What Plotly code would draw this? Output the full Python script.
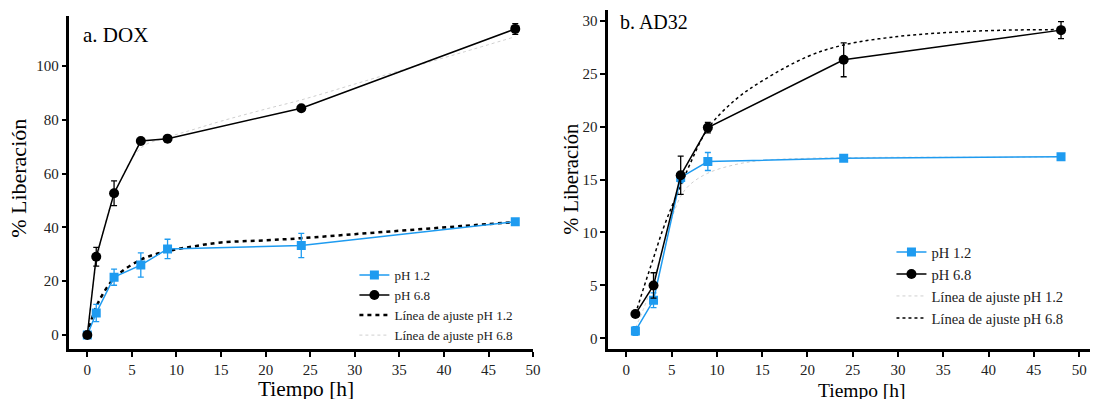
import plotly.graph_objects as go

# ---------------- data ----------------
# a. DOX
t_dox = [0, 1, 3, 6, 9, 24, 48]
dox_ph12 = [0, 8.2, 21.5, 26.0, 32.0, 33.3, 42.1]
dox_ph12_err = [0.6, 3.2, 3.0, 4.5, 3.6, 4.5, 0.6]
dox_ph68 = [0, 29.1, 52.7, 72.1, 73.0, 84.3, 113.8]
dox_ph68_err = [0.6, 3.5, 4.6, 0.8, 0.8, 1.0, 2.0]

t_fit_dox = [0, 1, 3, 6, 9, 12, 15, 20, 24, 30, 36, 42, 48]
dox_fit12 = [0, 10.5, 21.0, 28.0, 31.2, 33.0, 34.4, 35.2, 36.0, 37.5, 39.0, 40.5, 42.0]
dox_fit68 = [0, 26.0, 52.0, 69.5, 73.5, 76.5, 79.5, 84.0, 87.4, 93.3, 99.2, 105.0, 110.9]

# b. AD32
t_ad = [1, 3, 6, 9, 24, 48]
ad_ph12 = [0.7, 3.6, 15.2, 16.7, 17.0, 17.15]
ad_ph12_err = [0.4, 0.7, 0.5, 0.85, 0.2, 0.2]
ad_ph68 = [2.3, 5.0, 15.4, 19.9, 26.3, 29.1]
ad_ph68_err = [0.2, 1.2, 1.8, 0.5, 1.6, 0.8]

t_fit_ad = [1, 2, 3, 4, 5, 6, 7, 9, 12, 15, 20, 24, 30, 36, 42, 48]
ad_fit12 = [1.0, 3.0, 5.5, 8.5, 11.3, 13.4, 14.5, 15.6, 16.4, 16.8, 17.0, 17.05, 17.1, 17.1, 17.1, 17.15]
ad_fit68 = [2.3, 5.0, 7.6, 10.2, 12.4, 14.4, 16.4, 19.8, 22.5, 24.3, 26.6, 27.7, 28.5, 28.9, 29.1, 29.15]

x_ticks = [0, 5, 10, 15, 20, 25, 30, 35, 40, 45, 50]
y_ticks_dox = [0, 20, 40, 60, 80, 100]
y_ticks_ad = [0, 5, 10, 15, 20, 25, 30]

labels = ["pH 1.2", "pH 6.8", "Línea de ajuste pH 1.2", "Línea de ajuste pH 6.8"]

BLUE = "#1E9BF0"
FONT = "Liberation Serif, Times New Roman, serif"
W, H = 1098, 399

fig = go.Figure()

# ---- panel a ----
fig.add_trace(go.Scatter(x=t_fit_dox, y=dox_fit68, mode="lines", name=labels[3],
                         line=dict(color="#cfcfcf", width=1, dash="dot", shape="spline"),
                         xaxis="x", yaxis="y", legend="legend", legendrank=4))
fig.add_trace(go.Scatter(x=t_fit_dox, y=dox_fit12, mode="lines", name=labels[2],
                         line=dict(color="black", width=2.5, dash="4px,4px", shape="spline"),
                         xaxis="x", yaxis="y", legend="legend", legendrank=3))
fig.add_trace(go.Scatter(x=t_dox, y=dox_ph12, mode="lines+markers", name=labels[0],
                         line=dict(color=BLUE, width=1.5),
                         marker=dict(symbol="square", size=9, color=BLUE),
                         error_y=dict(type="data", array=dox_ph12_err, color=BLUE, thickness=1.3, width=3),
                         xaxis="x", yaxis="y", legend="legend", legendrank=1))
fig.add_trace(go.Scatter(x=t_dox, y=dox_ph68, mode="lines+markers", name=labels[1],
                         line=dict(color="black", width=1.5),
                         marker=dict(symbol="circle", size=10, color="black"),
                         error_y=dict(type="data", array=dox_ph68_err, color="black", thickness=1.3, width=3),
                         xaxis="x", yaxis="y", legend="legend", legendrank=2))

# ---- panel b ----
fig.add_trace(go.Scatter(x=t_fit_ad, y=ad_fit12, mode="lines", name=labels[2],
                         line=dict(color="#cfcfcf", width=1, dash="dot", shape="spline"),
                         xaxis="x2", yaxis="y2", legend="legend2", legendrank=3))
fig.add_trace(go.Scatter(x=t_fit_ad, y=ad_fit68, mode="lines", name=labels[3],
                         line=dict(color="black", width=1.5, dash="3px,3px", shape="spline"),
                         xaxis="x2", yaxis="y2", legend="legend2", legendrank=4))
fig.add_trace(go.Scatter(x=t_ad, y=ad_ph12, mode="lines+markers", name=labels[0],
                         line=dict(color=BLUE, width=1.5),
                         marker=dict(symbol="square", size=9, color=BLUE),
                         error_y=dict(type="data", array=ad_ph12_err, color=BLUE, thickness=1.3, width=3),
                         xaxis="x2", yaxis="y2", legend="legend2", legendrank=1))
fig.add_trace(go.Scatter(x=t_ad, y=ad_ph68, mode="lines+markers", name=labels[1],
                         line=dict(color="black", width=1.5),
                         marker=dict(symbol="circle", size=10, color="black"),
                         error_y=dict(type="data", array=ad_ph68_err, color="black", thickness=1.3, width=3),
                         xaxis="x2", yaxis="y2", legend="legend2", legendrank=2))

axis_common = dict(showline=True, linecolor="black", linewidth=2.5, ticks="outside",
                   ticklen=5, tickwidth=1.5, tickcolor="black", showgrid=False, zeroline=False,
                   tickfont=dict(family=FONT, size=15, color="#222"))

fig.update_layout(
    width=W, height=H,
    margin=dict(l=0, r=0, t=0, b=0),
    paper_bgcolor="white", plot_bgcolor="white",
    font=dict(family=FONT, color="black"),
    xaxis=dict(domain=[70 / W, 537 / W], range=[-2, 50], tickvals=x_ticks, anchor="y", **axis_common),
    yaxis=dict(domain=[(H - 349) / H, (H - 16) / H], range=[-5.2, 118.6], tickvals=y_ticks_dox,
               anchor="x", **axis_common),
    xaxis2=dict(domain=[612.7 / W, 1.0], range=[-2, 51.2], tickvals=x_ticks, anchor="y2", **axis_common),
    yaxis2=dict(domain=[(H - 349) / H, (H - 10) / H], range=[-1, 31], tickvals=y_ticks_ad,
                anchor="x2", **axis_common),
    legend=dict(x=357 / W, y=1 - 260 / H, xanchor="left", yanchor="top",
                bgcolor="rgba(0,0,0,0)", font=dict(family=FONT, size=13.1, color="#222"),
                tracegroupgap=0, itemwidth=30),
    legend2=dict(x=898 / W, y=1 - 236 / H, xanchor="left", yanchor="top",
                 bgcolor="rgba(0,0,0,0)", font=dict(family=FONT, size=14.6, color="#222"),
                 tracegroupgap=0, itemwidth=30),
    annotations=[
        dict(text="a. DOX", x=82 / W, y=1 - 35 / H, xref="paper", yref="paper",
             xanchor="left", yanchor="middle", showarrow=False,
             font=dict(family=FONT, size=21, color="black")),
        dict(text="b. AD32", x=623 / W, y=1 - 22 / H, xref="paper", yref="paper",
             xanchor="left", yanchor="middle", showarrow=False,
             font=dict(family=FONT, size=20, color="black")),
        dict(text="% Liberación", x=18 / W, y=1 - 178 / H, xref="paper", yref="paper",
             xanchor="center", yanchor="middle", textangle=-90, showarrow=False,
             font=dict(family=FONT, size=22, color="black")),
        dict(text="% Liberación", x=575 / W, y=1 - 179 / H, xref="paper", yref="paper",
             xanchor="center", yanchor="middle", textangle=-90, showarrow=False,
             font=dict(family=FONT, size=20.5, color="black")),
        dict(text="Tiempo [h]", x=308 / W, y=1 - 389 / H, xref="paper", yref="paper",
             xanchor="center", yanchor="middle", showarrow=False,
             font=dict(family=FONT, size=21.4, color="black")),
        dict(text="Tiempo [h]", x=868 / W, y=1 - 390 / H, xref="paper", yref="paper",
             xanchor="center", yanchor="middle", showarrow=False,
             font=dict(family=FONT, size=19.5, color="black")),
    ],
)

fig.write_html("out.html")
